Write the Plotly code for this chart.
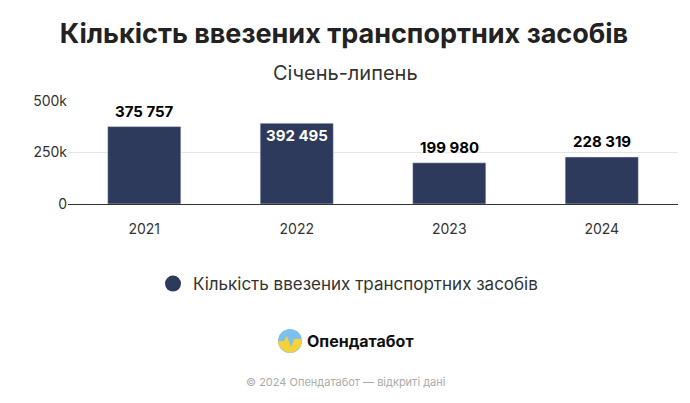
import plotly.graph_objects as go

years = ["2021", "2022", "2023", "2024"]
values = [375757, 392495, 199980, 228319]
labels = ["375 757", "392 495", "199 980", "228 319"]
series_name = "Кількість ввезених транспортних засобів"
tick_vals = [0, 250000, 500000]
tick_text = ["0", "250k", "500k"]

C = "#2d3a5c"
F = "Inter, Roboto, sans-serif"
D = 7  # vertical correction
def px(x): return (x - 68) / 610
def py(y): return (203 - y) / 103

xs = list(range(len(years)))
fig = go.Figure()
fig.add_trace(go.Bar(x=xs, y=values, marker=dict(color=C), width=0.48, showlegend=False))
for i, (v, t) in enumerate(zip(values, labels)):
    inside = i == 1
    fig.add_annotation(x=xs[i], y=v, xref="x", yref="y", text=f"<b>{t}</b>", showarrow=False,
                       yanchor="middle" if inside else "bottom",
                       yshift=-12 if inside else 4,
                       font=dict(family=F, size=15, color="white" if inside else "black"))
fig.add_trace(go.Scatter(x=[xs[0]], y=[-1e9], mode="markers", name=series_name,
                         marker=dict(color=C, size=18, symbol="circle")))

fig.update_layout(
    width=690, height=403, margin=dict(l=60, r=20, t=100 - D, b=200 + D),
    plot_bgcolor="white", paper_bgcolor="white",
    title=dict(text="<b>Кількість ввезених транспортних засобів</b>", x=px(344), xanchor="center",
               xref="paper", y=1 - (33 - D)/403, yanchor="middle", font=dict(family=F, size=27, color="#222")),
    legend=dict(orientation="h", x=px(348), xanchor="center", y=py(283), yanchor="middle",
                font=dict(family=F, size=17, color="#333")),
)
fig.add_annotation(text="Січень-липень", xref="paper", yref="paper", x=px(345), y=py(72),
                   showarrow=False, yanchor="middle", font=dict(family=F, size=20, color="#333"))
fig.add_annotation(text="<b>Опендатабот</b>", xref="paper", yref="paper", x=px(360), y=py(340),
                   showarrow=False, yanchor="middle", font=dict(family=F, size=16, color="#111"))
fig.add_annotation(text="© 2024 Опендатабот — відкриті дані", xref="paper", yref="paper", x=px(345), y=py(381),
                   showarrow=False, yanchor="middle", font=dict(family=F, size=11, color="#aaa"))
cx, cy = 290, 340
fig.add_shape(type="circle", xref="paper", yref="paper", xsizemode="pixel", ysizemode="pixel",
              xanchor=px(cx), yanchor=py(cy), x0=-12, x1=12, y0=-12, y1=12,
              fillcolor="#7cc0ec", line_width=0)
fig.add_shape(type="path", xref="paper", yref="paper", xsizemode="pixel", ysizemode="pixel",
              xanchor=px(cx), yanchor=py(cy),
              path="M -12,0 L -6,0 L -3,5 L 1,-6 L 4,2 L 12,2 L 11,-5 L 6,-10 L 0,-12 L -6,-10 L -11,-5 Z",
              fillcolor="#f5d23c", line_width=0)

fig.update_xaxes(range=[-0.5, 3.5], tickvals=xs, ticktext=years, showline=True, linecolor="#333",
                 linewidth=1, ticks="outside", ticklen=12, tickcolor="rgba(0,0,0,0)", showgrid=False, zeroline=False,
                 tickfont=dict(family=F, size=14, color="#333"))
fig.update_yaxes(range=[0, 500000], tickvals=tick_vals, ticktext=tick_text, gridcolor="#e6e6e6",
                 zeroline=False, tickfont=dict(family=F, size=14, color="#333"))
fig.write_html("out.html")
